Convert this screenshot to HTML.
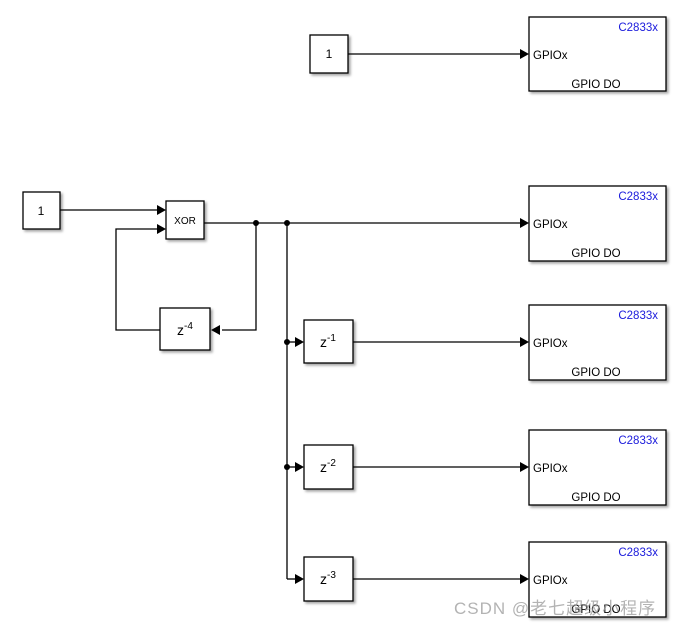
<!DOCTYPE html>
<html><head><meta charset="utf-8"><style>
html,body{margin:0;padding:0;background:#fff;}
svg{display:block;font-family:"Liberation Sans","Noto Sans CJK SC",sans-serif;}
</style></head><body>
<svg width="680" height="628" viewBox="0 0 680 628" xmlns="http://www.w3.org/2000/svg">
<defs>
<filter id="sh" x="-10%" y="-10%" width="130%" height="130%">
<feDropShadow dx="2" dy="2" stdDeviation="1.2" flood-color="#000" flood-opacity="0.35"/>
</filter>
</defs>
<g stroke="#000" stroke-width="1.3" fill="none">
<line x1="348" y1="54" x2="520" y2="54"/>
<line x1="60" y1="210" x2="158" y2="210"/>
<polyline points="160,330 116,330 116,229 158,229"/>
<line x1="204" y1="223" x2="520" y2="223"/>
<polyline points="256,223 256,330 222,330"/>
<line x1="287" y1="223" x2="287" y2="579"/>
<line x1="287" y1="342" x2="295" y2="342"/>
<line x1="287" y1="467" x2="295" y2="467"/>
<line x1="287" y1="579" x2="295" y2="579"/>
<line x1="353" y1="342" x2="520" y2="342"/>
<line x1="353" y1="467" x2="520" y2="467"/>
<line x1="353" y1="579" x2="520" y2="579"/>
</g>
<g fill="#000">
<circle cx="256" cy="223" r="3"/><circle cx="287" cy="223" r="3"/>
<circle cx="287" cy="342" r="3"/><circle cx="287" cy="467" r="3"/>
<polygon points="520,49 529,54 520,59"/>
<polygon points="520,218 529,223 520,228"/>
<polygon points="520,337 529,342 520,347"/>
<polygon points="520,462 529,467 520,472"/>
<polygon points="520,574 529,579 520,584"/>
<polygon points="157,205 166,210 157,215"/>
<polygon points="157,224 166,229 157,234"/>
<polygon points="220,325 211,330 220,335"/>
<polygon points="295,337 304,342 295,347"/>
<polygon points="295,462 304,467 295,472"/>
<polygon points="295,574 304,579 295,584"/>
</g>
<g fill="#fff" stroke="#000" stroke-width="1.3" filter="url(#sh)">
<rect x="310" y="35" width="38" height="38"/>
<rect x="23" y="192" width="37" height="37"/>
<rect x="166" y="201" width="38" height="38"/>
<rect x="160" y="308" width="50" height="42"/>
<rect x="304" y="320" width="49" height="43"/>
<rect x="304" y="445" width="49" height="44"/>
<rect x="304" y="557" width="49" height="44"/>
<rect x="529" y="17" width="137" height="74"/>
<rect x="529" y="186" width="137" height="75"/>
<rect x="529" y="305" width="137" height="75"/>
<rect x="529" y="430" width="137" height="75"/>
<rect x="529" y="542" width="137" height="75"/>
</g>
<g font-size="12" fill="#000">
<text x="329" y="58" text-anchor="middle">1</text>
<text x="41" y="215" text-anchor="middle">1</text>
<text x="185" y="224" text-anchor="middle" font-size="10">XOR</text>
<g font-size="14">
<text x="185" y="335" text-anchor="middle">z<tspan font-size="10" dy="-6">-4</tspan></text>
<text x="328" y="347" text-anchor="middle">z<tspan font-size="10" dy="-6">-1</tspan></text>
<text x="328" y="472" text-anchor="middle">z<tspan font-size="10" dy="-6">-2</tspan></text>
<text x="328" y="584" text-anchor="middle">z<tspan font-size="10" dy="-6">-3</tspan></text>
</g>
</g>
<g font-size="11.5">
<g><text x="658" y="31" text-anchor="end" fill="#1a1adc">C2833x</text><text x="533" y="59">GPIOx</text><text x="596" y="88" text-anchor="middle">GPIO DO</text></g>
<g transform="translate(0,169)"><text x="658" y="31" text-anchor="end" fill="#1a1adc">C2833x</text><text x="533" y="59">GPIOx</text><text x="596" y="88" text-anchor="middle">GPIO DO</text></g>
<g transform="translate(0,288)"><text x="658" y="31" text-anchor="end" fill="#1a1adc">C2833x</text><text x="533" y="59">GPIOx</text><text x="596" y="88" text-anchor="middle">GPIO DO</text></g>
<g transform="translate(0,413)"><text x="658" y="31" text-anchor="end" fill="#1a1adc">C2833x</text><text x="533" y="59">GPIOx</text><text x="596" y="88" text-anchor="middle">GPIO DO</text></g>
<g transform="translate(0,525)"><text x="658" y="31" text-anchor="end" fill="#1a1adc">C2833x</text><text x="533" y="59">GPIOx</text><text x="596" y="88" text-anchor="middle">GPIO DO</text></g>
</g>
<text x="454" y="614" font-size="17" letter-spacing="1" fill="#999" fill-opacity="0.75">CSDN @老七超级小程序</text>
</svg>
</body></html>
